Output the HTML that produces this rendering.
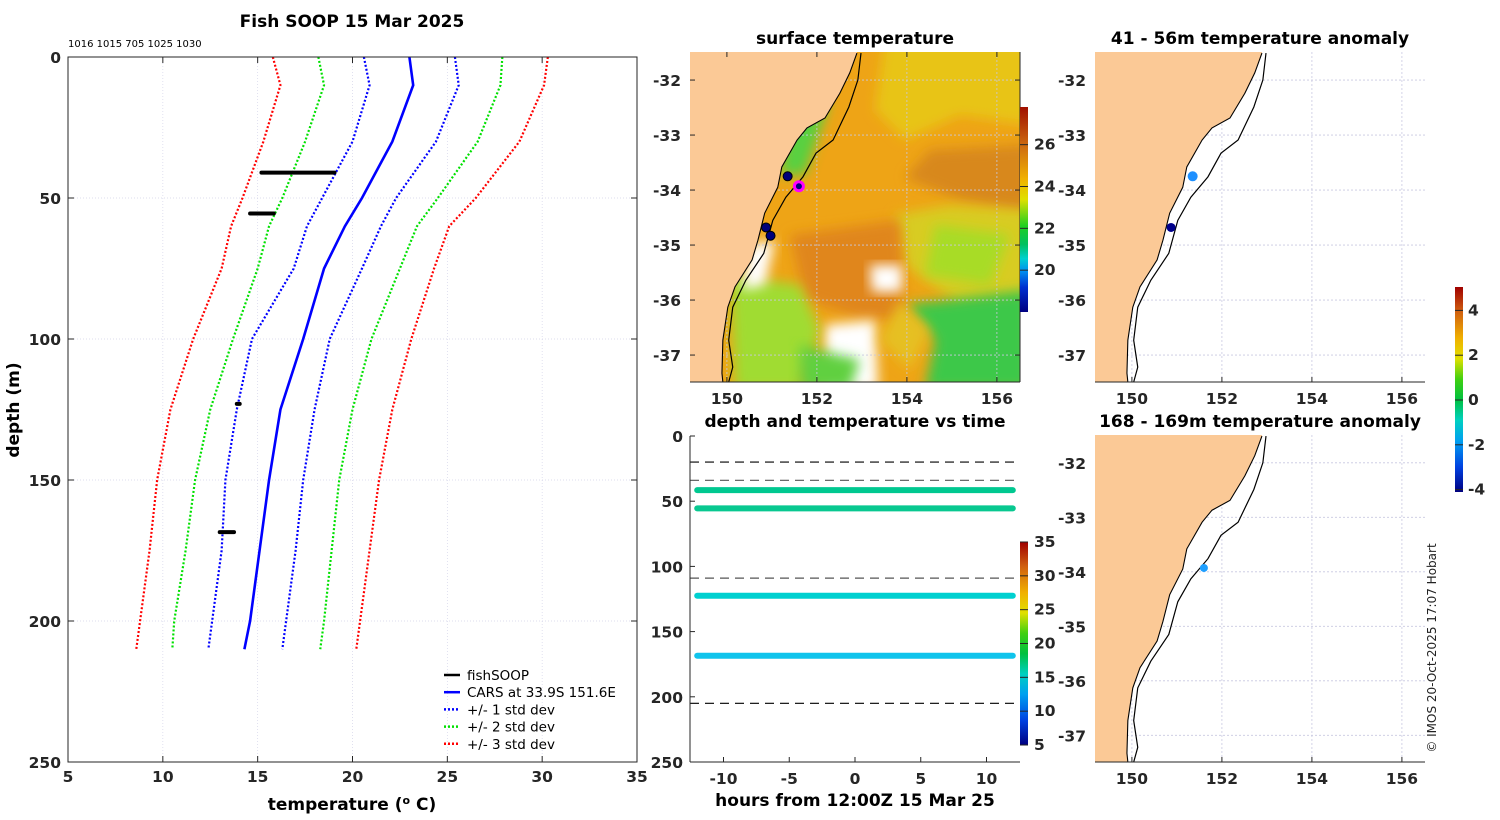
<!DOCTYPE html>
<html><head><meta charset="utf-8"><style>
html,body{margin:0;padding:0;background:#fff;}
svg{display:block;font-family:"DejaVu Sans","Liberation Sans",sans-serif;}
.tk{font-size:15.5px;font-weight:bold;fill:#262626;}
.ttl{font-size:17px;font-weight:bold;fill:#000;}
.lg{font-size:13.5px;fill:#000;}
</style></head><body>
<svg id="fig" width="1500" height="820" viewBox="0 0 1500 820">
<defs>
<clipPath id="c1"><rect x="690" y="52" width="330" height="330"/></clipPath>
<clipPath id="c2"><rect x="1095" y="52" width="330" height="330"/></clipPath>
<clipPath id="c3"><rect x="1095" y="435" width="330" height="327"/></clipPath>
<linearGradient id="sstcb" x1="0" y1="1" x2="0" y2="0">
<stop offset="0" stop-color="#000080"/><stop offset="0.12" stop-color="#0030d0"/><stop offset="0.2" stop-color="#0090f0"/><stop offset="0.26" stop-color="#00d0d0"/><stop offset="0.33" stop-color="#00c060"/><stop offset="0.42" stop-color="#20d020"/><stop offset="0.55" stop-color="#e0e000"/><stop offset="0.65" stop-color="#f0b000"/><stop offset="0.8" stop-color="#d07010"/><stop offset="1" stop-color="#a01000"/></linearGradient>
<linearGradient id="jet" x1="0" y1="1" x2="0" y2="0">
<stop offset="0" stop-color="#000080"/><stop offset="0.12" stop-color="#0040e0"/><stop offset="0.25" stop-color="#00a0f0"/><stop offset="0.35" stop-color="#00d0c0"/><stop offset="0.45" stop-color="#00c040"/><stop offset="0.55" stop-color="#40d010"/><stop offset="0.65" stop-color="#e0e000"/><stop offset="0.75" stop-color="#f0b000"/><stop offset="0.88" stop-color="#d06010"/><stop offset="1" stop-color="#a00000"/></linearGradient>
<filter id="bl" x="-20%" y="-20%" width="140%" height="140%"><feGaussianBlur stdDeviation="6"/></filter>
</defs>
<g id="main"></g>
<g id="sst"></g>
<g id="tv"></g>
<g id="m2"></g>
<g id="m3"></g>
<text x="1436" y="648" transform="rotate(-90 1436 648)" text-anchor="middle" font-size="12" fill="#222">© IMOS 20-Oct-2025 17:07 Hobart</text>
</svg>
<script>
const NS="http://www.w3.org/2000/svg";
function mk(p,tag,at,txt){const e=document.createElementNS(NS,tag);for(const k in at)e.setAttribute(k,at[k]);if(txt!==undefined)e.textContent=txt;p.appendChild(e);return e;}

// ---------- profile data ----------
const depths=[0,10,30,50,60,75,100,125,150,175,200,210];
const carsMean=[23.0,23.2,22.1,20.5,19.6,18.5,17.4,16.2,15.6,15.1,14.6,14.3];
const minus1=[20.6,20.9,20.0,18.4,17.6,16.9,14.7,13.9,13.3,13.1,12.6,12.4];
const plus1=[25.4,25.6,24.4,22.3,21.5,20.5,18.8,18.0,17.4,17.0,16.5,16.3];
const minus2=[18.2,18.5,17.5,16.3,15.6,15.0,13.7,12.5,11.7,11.2,10.6,10.5];
const plus2=[27.9,27.8,26.6,24.5,23.4,22.5,21.0,20.0,19.3,18.9,18.5,18.3];
const minus3=[15.8,16.2,15.3,14.2,13.6,13.1,11.6,10.4,9.7,9.3,8.8,8.6];
const plus3=[30.3,30.1,28.8,26.5,25.1,24.3,23.1,22.1,21.4,20.9,20.4,20.2];
const soopDepth=[41,55.5,123,168.5];
const soopTmin=[15.2,14.6,13.9,13.0];
const soopTmax=[19.0,15.8,14.0,13.7];
const xTicks=[5,10,15,20,25,30,35];
const yTicks=[0,50,100,150,200,250];

const X=t=>68+(t-5)*569/30, Y=d=>57+d*705/250;
const g=document.getElementById('main');
xTicks.forEach(t=>{const l=mk(g,'line',{x1:X(t),x2:X(t),y1:57,y2:762,stroke:'#d4d4e8','stroke-width':0.7,'stroke-dasharray':'1 2'});
});
yTicks.forEach(t=>{const l=mk(g,'line',{x1:68,x2:637,y1:Y(t),y2:Y(t),stroke:'#d4d4e8','stroke-width':0.7,'stroke-dasharray':'1 2'});
});
function line(arr,col,dash,w,name){const pts=arr.map((t,i)=>X(t)+','+Y(depths[i])).join(' ');
const p=mk(g,'polyline',{points:pts,fill:'none',stroke:col,'stroke-width':w,'stroke-dasharray':dash});
}
line(minus3,'#ff0000','2 2',2.2,'minus-3-std-line');line(plus3,'#ff0000','2 2',2.2,'plus-3-std-line');
line(minus2,'#00e000','2 2',2.2,'minus-2-std-line');line(plus2,'#00e000','2 2',2.2,'plus-2-std-line');
line(minus1,'#0000ff','2 2',2.2,'minus-1-std-line');line(plus1,'#0000ff','2 2',2.2,'plus-1-std-line');
line(carsMean,'#0000ff','none',2.6,'cars-mean-line');
soopDepth.forEach((d,i)=>{const r=mk(g,'line',{x1:X(soopTmin[i]),x2:X(soopTmax[i])+1,y1:Y(d),y2:Y(d),stroke:'#000','stroke-width':4,'stroke-linecap':'round'});
});
mk(g,'rect',{x:68,y:57,width:569,height:705,fill:'none',stroke:'#262626','stroke-width':1});
xTicks.forEach(t=>{mk(g,'line',{x1:X(t),x2:X(t),y1:762,y2:756,stroke:'#262626'});mk(g,'line',{x1:X(t),x2:X(t),y1:57,y2:63,stroke:'#262626'});
const e=mk(g,'text',{x:X(t),y:782,'text-anchor':'middle',class:'tk'},t);});
yTicks.forEach(t=>{mk(g,'line',{x1:68,x2:74,y1:Y(t),y2:Y(t),stroke:'#262626'});mk(g,'line',{x1:631,x2:637,y1:Y(t),y2:Y(t),stroke:'#262626'});
const e=mk(g,'text',{x:61,y:Y(t)+6,'text-anchor':'end',class:'tk'},t);});
let e=mk(g,'text',{x:352,y:27,'text-anchor':'middle',class:'ttl'},'Fish SOOP 15 Mar 2025');
e=mk(g,'text',{x:68,y:47,'font-size':'10',fill:'#000'},'1016 1015 705 1025 1030');
e=mk(g,'text',{x:352,y:810,'text-anchor':'middle',class:'ttl'});e.innerHTML='temperature (<tspan font-size="11" dy="-6">o</tspan><tspan dy="6"> C)</tspan>';

e=mk(g,'text',{x:19,y:410,'text-anchor':'middle',class:'ttl',transform:'rotate(-90 19 410)'},'depth (m)');
const legItems=[['fishSOOP','#000','none'],['CARS at 33.9S 151.6E','#0000ff','none'],['+/- 1 std dev','#0000ff','2 2'],['+/- 2 std dev','#00e000','2 2'],['+/- 3 std dev','#ff0000','2 2']];
legItems.forEach((it,i)=>{const yy=675+i*17.2;const l=mk(g,'line',{x1:444,x2:460,y1:yy,y2:yy,stroke:it[1],'stroke-width':2.5,'stroke-dasharray':it[2]});

const t=mk(g,'text',{x:467,y:yy+5,class:'lg'},it[0]);});

// ---------- map geometry ----------
const coastLon=[152.89,152.73,152.51,152.18,151.78,151.56,151.22,151.13,150.84,150.69,150.56,150.18,150.02,149.91,149.89,149.91];
const coastLat=[-31.51,-31.87,-32.24,-32.69,-32.87,-33.09,-33.58,-33.95,-34.42,-34.91,-35.27,-35.76,-36.13,-36.73,-37.33,-37.49];
const isoLon=[152.98,152.91,152.71,152.36,151.98,151.69,151.31,151.02,150.82,150.42,150.13,150.04,150.13,150.04];
const isoLat=[-31.51,-32.0,-32.49,-33.09,-33.33,-33.76,-34.13,-34.55,-35.15,-35.64,-36.13,-36.73,-37.22,-37.49];
const lonTicks=[150,152,154,156];
const latTicks=[-32,-33,-34,-35,-36,-37];
function mapFrame(gid,x0,y0,w,h,clip,title,ppy){
  const G=document.getElementById(gid);
  const MX=lon=>x0+(lon-149.18)*45, MY=lat=>y0+(-31.49-lat)*ppy;
  const inner=mk(G,'g',{'clip-path':'url(#'+clip+')'});
  return {G,MX,MY,inner,x0,y0,w,h,title};
}
function drawLand(m){
  const pts=coastLon.map((l,i)=>m.MX(l)+','+m.MY(coastLat[i]));
  const land=mk(m.inner,'polygon',{points:m.x0+','+(m.y0-5)+' '+(m.MX(coastLon[0]))+','+(m.y0-5)+' '+pts.join(' ')+' '+m.x0+','+(m.y0+m.h+5),fill:'#fbc996',stroke:'none'});
  
  const cl=mk(m.inner,'polyline',{points:pts.join(' '),fill:'none',stroke:'#000','stroke-width':1.1});
  
  const iso=mk(m.inner,'polyline',{points:isoLon.map((l,i)=>m.MX(l)+','+m.MY(isoLat[i])).join(' '),fill:'none',stroke:'#000','stroke-width':1.2});
  
}
function grid(m){
  lonTicks.forEach(l=>{mk(m.inner,'line',{x1:m.MX(l),x2:m.MX(l),y1:m.y0,y2:m.y0+m.h,stroke:'#c8c8e0','stroke-width':0.8,'stroke-dasharray':'2 2'});});
  latTicks.forEach(l=>{mk(m.inner,'line',{x1:m.x0,x2:m.x0+m.w,y1:m.MY(l),y2:m.MY(l),stroke:'#c8c8e0','stroke-width':0.8,'stroke-dasharray':'2 2'});});
}
function axes(m){
  const G=m.G;
  mk(G,'line',{x1:m.x0,x2:m.x0+m.w,y1:m.y0+m.h,y2:m.y0+m.h,stroke:'#262626'});
  lonTicks.forEach(l=>{mk(G,'line',{x1:m.MX(l),x2:m.MX(l),y1:m.y0+m.h,y2:m.y0+m.h-5,stroke:'#262626'});
    const t=mk(G,'text',{x:m.MX(l),y:m.y0+m.h+22,'text-anchor':'middle',class:'tk'},l);});
  latTicks.forEach(l=>{const t=mk(G,'text',{x:m.x0-9,y:m.MY(l)+6,'text-anchor':'end',class:'tk'},l);});
  const t=mk(G,'text',{x:m.x0+m.w/2,y:m.y0-8,'text-anchor':'middle',class:'ttl'},m.title);
}

// SST map
const m1=mapFrame('sst',690,52,330,330,'c1','surface temperature',55);
const I=m1.inner;
mk(I,'rect',{x:690,y:52,width:330,height:330,fill:'#eea416'});
const blobs=[
 ['#e8c418','885,40 1030,40 1030,125 960,115 905,140 875,110'],
 ['#d8881a','930,150 1030,145 1030,215 960,200 905,178'],
 ['#d8cc20','1030,210 1030,300 960,305 905,265 895,215 950,205'],
 ['#a8dc28','935,225 1010,235 990,285 925,275'],
 ['#3cc84a','905,305 1030,290 1030,390 925,390 935,340'],
 ['#e0861a','790,235 900,220 905,320 860,318 805,300'],
 ['#ffffff','825,325 875,320 878,390 825,390'],
 ['#ffffff','870,265 902,265 902,292 872,292'],
 ['#ffffff','760,300 790,305 800,360 765,350'],
 ['#a0dc30','730,275 800,285 820,330 800,390 735,390'],
 ['#60d040','800,345 860,360 850,390 800,390'],
 ['#e6c020','900,300 930,330 910,370 880,340'],
 ['#58d040','790,105 830,100 805,175 780,175'],
 ['#ffffff','748,245 775,240 765,285 742,290']];
blobs.forEach(b=>{const p=mk(I,'polygon',{points:b[1],fill:b[0],filter:'url(#bl)'});});
grid(m1);drawLand(m1);
const dotX=[151.35,150.87,150.97],dotY=[-33.75,-34.68,-34.83];
dotX.forEach((l,i)=>{const c=mk(I,'circle',{cx:m1.MX(l),cy:m1.MY(dotY[i]),r:4.5,fill:'#00007a',stroke:'#000'});});
let cc=mk(I,'circle',{cx:m1.MX(151.6),cy:m1.MY(-33.93),r:4.5,fill:'#00007a',stroke:'#ff00ff','stroke-width':3});
axes(m1);
lonTicks.forEach(l=>mk(m1.G,'line',{x1:m1.MX(l),x2:m1.MX(l),y1:52,y2:57,stroke:'#262626'}));
latTicks.forEach(l=>{mk(m1.G,'line',{x1:690,x2:695,y1:m1.MY(l),y2:m1.MY(l),stroke:'#262626'});mk(m1.G,'line',{x1:1015,x2:1020,y1:m1.MY(l),y2:m1.MY(l),stroke:'#262626'});});
mk(m1.G,'line',{x1:1020,x2:1020,y1:52,y2:382,stroke:'#262626'});
const sstCbTicks=[20,22,24,26];
mk(m1.G,'rect',{x:1020,y:107,width:8,height:205,fill:'url(#sstcb)'});
sstCbTicks.forEach(t=>{const y=312-(t-18)*205/9.8;mk(m1.G,'line',{x1:1020,x2:1028,y1:y,y2:y,stroke:'#262626'});
const e=mk(m1.G,'text',{x:1034,y:y+5,class:'tk','font-size':'13'},t);});

// Anomaly maps
const m2=mapFrame('m2',1095,52,330,330,'c2','41 - 56m temperature anomaly',55);
grid(m2);drawLand(m2);
const a1Lon=[151.35,150.87],a1Lat=[-33.75,-34.68],a1Col=['#1e90ff','#00008b'];
a1Lon.forEach((l,i)=>{const c=mk(m2.inner,'circle',{cx:m2.MX(l),cy:m2.MY(a1Lat[i]),r:i?4.5:5,fill:a1Col[i]});});
axes(m2);
const m3=mapFrame('m3',1095,435,330,327,'c3','168 - 169m temperature anomaly',54.5);
grid(m3);drawLand(m3);
let c3=mk(m3.inner,'circle',{cx:m3.MX(151.6),cy:m3.MY(-33.93),r:4,fill:'#1e9fff'});
axes(m3);
const anoTicks=[4,2,0,-2,-4];
const AG=document.getElementById('m3');
mk(AG,'rect',{x:1455,y:287,width:8,height:205,fill:'url(#jet)'});
anoTicks.forEach(t=>{const y=400-t*22.4;mk(AG,'line',{x1:1455,x2:1463,y1:y,y2:y,stroke:'#262626'});
const e=mk(AG,'text',{x:1468,y:y+5,class:'tk','font-size':'12'},t);});

// ---------- depth/time chart ----------
const hourTicks=[-10,-5,0,5,10];
const tvDepthTicks=[0,50,100,150,200,250];
const refDepths=[20,34,109,205];
const refColors=['#000','#555','#555','#000'];
const trackDepth=[41.5,55.5,122.5,168.5];
const trackColors=['#00c890','#08c890','#00d0d0','#10c4ec'];
const T=document.getElementById('tv');
const HX=h=>855+h*13.15, DY=d=>436+d*326/250;
refDepths.forEach((d,i)=>{const l=mk(T,'line',{x1:690,x2:1020,y1:DY(d),y2:DY(d),stroke:refColors[i],'stroke-width':1.2,'stroke-dasharray':'9 6'});
});
trackDepth.forEach((d,i)=>{const l=mk(T,'line',{x1:HX(-12),x2:HX(12),y1:DY(d),y2:DY(d),stroke:trackColors[i],'stroke-width':6,'stroke-linecap':'round'});
});
mk(T,'line',{x1:690,x2:690,y1:436,y2:762,stroke:'#262626'});mk(T,'line',{x1:690,x2:1020,y1:762,y2:762,stroke:'#262626'});
hourTicks.forEach(h=>{mk(T,'line',{x1:HX(h),x2:HX(h),y1:762,y2:757,stroke:'#262626'});
const e=mk(T,'text',{x:HX(h),y:784,'text-anchor':'middle',class:'tk'},h);});
tvDepthTicks.forEach(d=>{mk(T,'line',{x1:690,x2:695,y1:DY(d),y2:DY(d),stroke:'#262626'});
const e=mk(T,'text',{x:683,y:DY(d)+6,'text-anchor':'end',class:'tk'},d);});
e=mk(T,'text',{x:855,y:427,'text-anchor':'middle',class:'ttl'},'depth and temperature vs time');
e=mk(T,'text',{x:855,y:806,'text-anchor':'middle',class:'ttl'},'hours from 12:00Z 15 Mar 25');
const tvCb=[35,30,25,20,15,10,5];
mk(T,'rect',{x:1020,y:542,width:8,height:203,fill:'url(#jet)'});
tvCb.forEach(t=>{const y=745-(t-5)*203/30;mk(T,'line',{x1:1020,x2:1028,y1:y,y2:y,stroke:'#262626'});
const e=mk(T,'text',{x:1034,y:y+5,class:'tk','font-size':'13'},t);});
</script>
</body></html>
